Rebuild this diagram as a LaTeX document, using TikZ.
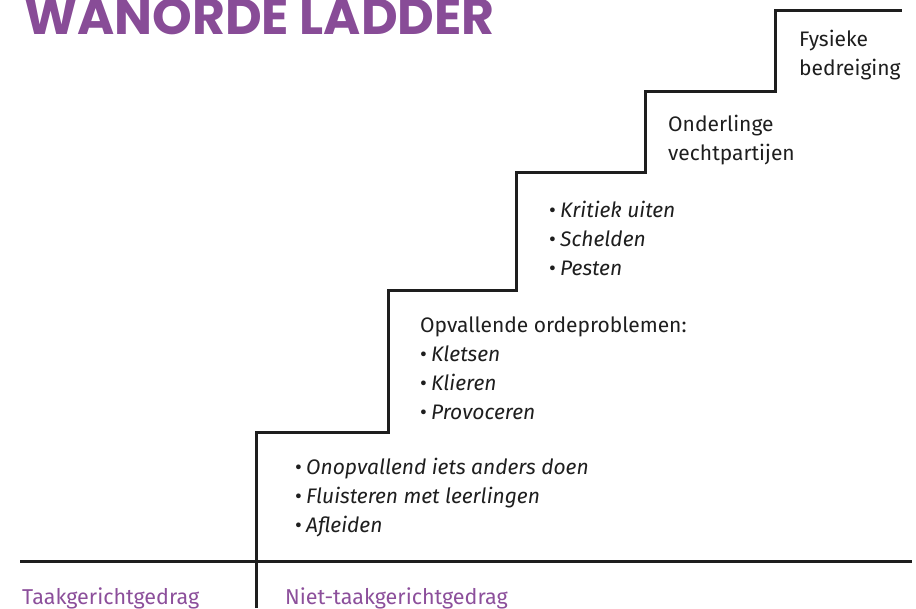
\documentclass[tikz,border=0pt]{standalone}
\usepackage{fontspec}
\setmainfont{Fira Sans}
\newfontfamily\titlefont{Poppins}
\definecolor{ttl}{HTML}{884C97}
\definecolor{lbl}{HTML}{8C4F9B}
\definecolor{ink}{HTML}{1E1E1E}
\newcommand\bul{{\upshape •}\hspace{0.2em}}
\begin{document}
\begin{tikzpicture}[x=1pt,y=-1pt,
  stair/.style={draw=ink,line width=3pt,line cap=butt,line join=miter},
  body/.style={anchor=base west,inner sep=0pt,font=\fontsize{21}{28.8}\selectfont,text=ink,align=left},
  lab/.style={anchor=base west,inner sep=0pt,font=\fontsize{21.5}{24}\selectfont,text=lbl}]
\useasboundingbox (0,0) rectangle (916,608);
\node[anchor=base west,inner sep=0pt,text=ttl,font=\titlefont\bfseries\fontsize{50.5}{50}\selectfont] (title) at (24,34) {WANORDE LADDER};
% staircase
\coordinate (s0) at (256,608);
\coordinate (s1) at (256,432);
\coordinate (s2) at (388,432);
\coordinate (s3) at (388,290);
\coordinate (s4) at (516,290);
\coordinate (s5) at (516,172);
\coordinate (s6) at (645,172);
\coordinate (s7) at (645,91);
\coordinate (s8) at (775,91);
\coordinate (s9) at (775,10);
\coordinate (s10) at (902,10);
\draw[stair] (s0) -- (s1) -- (s2) -- (s3) -- (s4) -- (s5) -- (s6) -- (s7) -- (s8) -- (s9) -- (s10);
\coordinate (b0) at (20,561);
\coordinate (b1) at (912,561);
\draw[stair] (b0) -- (b1);
% texts
\node[body] (t5) at (799,75) {Fysieke\\bedreiging};
\node[body] (t4) at (668,160) {Onderlinge\\vechtpartijen};
\node[body] (t3) at (549,275) {\itshape\bul Kritiek uiten\\\itshape\bul Schelden\\\itshape\bul Pesten};
\node[body] (t2) at (420,419) {Opvallende ordeproblemen:\\\itshape\bul Kletsen\\\itshape\bul Klieren\\\itshape\bul Provoceren};
\node[body] (t1) at (295,532) {\itshape\bul Onopvallend iets anders doen\\\itshape\bul Fluisteren met leerlingen\\\itshape\bul Afleiden};
\node[lab] (l1) at (22,604) {Taakgerichtgedrag};
\node[lab] (l2) at (285,604) {Niet-taakgerichtgedrag};
\end{tikzpicture}
\end{document}
